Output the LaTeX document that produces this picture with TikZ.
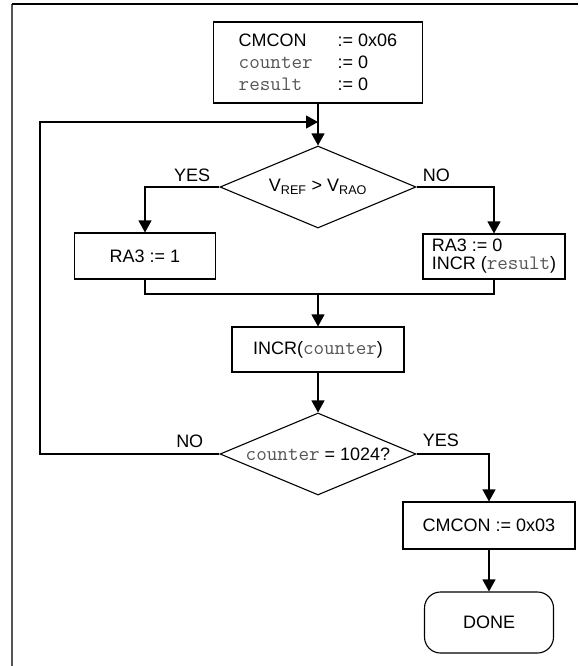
\documentclass[tikz,border=0pt]{standalone}
\usepackage{fontspec}
\setmainfont{Liberation Sans}
\setmonofont{Latin Modern Mono}[Scale=1.14]
\usetikzlibrary{arrows.meta, shapes.geometric}
\definecolor{codegray}{RGB}{85,85,85}
\newcommand{\var}[1]{\textcolor{codegray}{\texttt{#1}}}
\tikzset{
  box/.style      = {draw, line width=1.1pt, rectangle, inner sep=4pt,
                     align=center, font=\fontsize{18}{20}\selectfont},
  decision/.style = {draw, line width=1.1pt, diamond, aspect=2.39, inner sep=0pt,
                     minimum width=196pt, minimum height=82pt,
                     font=\fontsize{18}{20}\selectfont},
  term/.style     = {box, rounded corners=16pt},
  lbl/.style      = {inner sep=1pt, font=\fontsize{18}{20}\selectfont},
  arrow/.style    = {-{Triangle[length=12pt, width=13pt]}, line width=1.1pt},
  line/.style     = {line width=1.1pt},
}

\begin{document}
\begin{tikzpicture}[x=1pt, y=-1pt]
  \useasboundingbox (0,0) rectangle (578,666);
  % frame
  \draw[codegray, line width=2.5pt] (12,4.5) -- (12,666);
  \draw[line width=2pt] (12,4.5) -- (578,4.5);

  \node[box, align=left, minimum width=209pt, minimum height=81pt,
        font=\fontsize{18}{22}\selectfont] (init) at (318,62.5) {%
    \makebox[99pt][l]{CMCON}:= 0x06\\
    \makebox[99pt][l]{\var{counter}}:= 0\\
    \makebox[99pt][l]{\var{result}}:= 0};
  \coordinate (join) at (318,122);
  \node[decision] (cmp1) at (318,187) {V\textsubscript{REF} > V\textsubscript{RAO}};
  \node[box, minimum width=141pt, minimum height=46pt] (high) at (145,256) {RA3 := 1};
  \node[box, align=left, minimum width=142pt, minimum height=45pt,
        font=\fontsize{18}{18}\selectfont] (low) at (494,256.5) {%
    RA3 := 0\\INCR (\var{result})};
  \coordinate (merge) at (318,294);
  \node[box, minimum width=172pt, minimum height=45pt] (inc) at (318,349.5) {INCR(\var{counter})};
  \node[decision] (cmp2) at (318,454) {\var{counter} = 1024?};
  \coordinate (back) at (40,454);
  \node[box, minimum width=172pt, minimum height=47pt] (setc) at (489,525.5) {CMCON := 0x03};
  \node[term, minimum width=129pt, minimum height=61pt] (done) at (489,622.5) {DONE};

  % branch labels
  \node[lbl, anchor=south east] at ([xshift=-8pt, yshift=4pt]cmp1.west) {YES};
  \node[lbl, anchor=south west] at ([xshift=5pt, yshift=4pt]cmp1.east) {NO};
  \node[lbl, anchor=south east] at ([xshift=-15pt, yshift=5pt]cmp2.west) {NO};
  \node[lbl, anchor=south west] at ([xshift=5pt, yshift=6pt]cmp2.east) {YES};

  % connectors
  \draw[arrow] (init.south) -- (cmp1.north);
  \draw[arrow] (cmp1.west) -| (high.north);
  \draw[arrow] (cmp1.east) -| (low.north);
  \draw[line] (high.south) |- (merge);
  \draw[line] (low.south) |- (merge);
  \draw[arrow] (merge) -- (inc.north);
  \draw[arrow] (inc.south) -- (cmp2.north);
  \draw[arrow] (cmp2.west) -- (back) |- (join);
  \draw[arrow] (cmp2.east) -| (setc.north);
  \draw[arrow] (setc.south) -- (done.north);
\end{tikzpicture}
\end{document}
